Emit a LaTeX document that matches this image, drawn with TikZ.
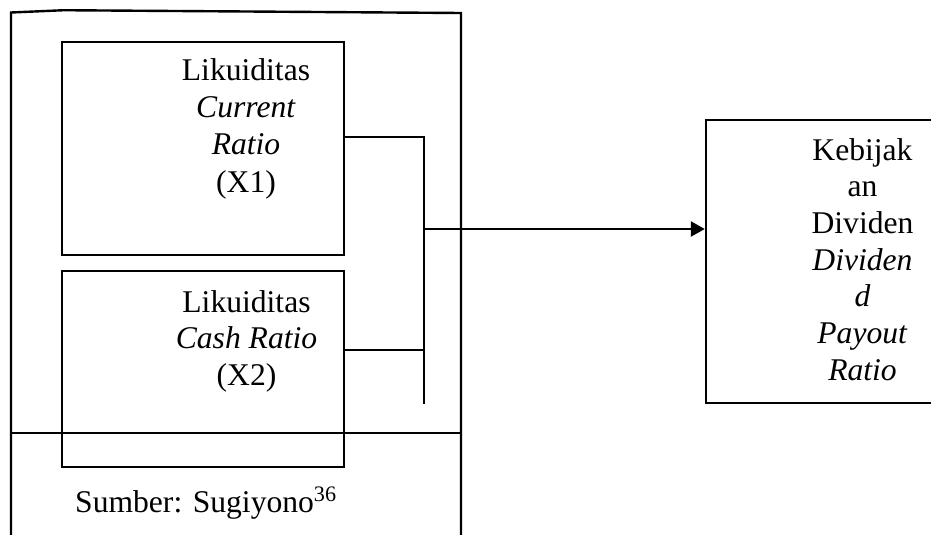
\documentclass[tikz,border=0pt]{standalone}
\usepackage{fontspec}
\setmainfont{Liberation Serif}
\usetikzlibrary{arrows.meta}
\begin{document}
\begin{tikzpicture}[x=0.5pt,y=-0.5pt,
  line width=1.2pt,
  box/.style={draw,line width=1.2pt,inner sep=0pt},
  lbl/.style={inner sep=0pt,anchor=base,font=\fontsize{15.8pt}{18.5pt}\selectfont},
  conn/.style={line width=1.2pt},
  arr/.style={line width=1.2pt,-{Triangle[length=7pt,width=7.5pt]}}]
\useasboundingbox (0,0) rectangle (931,535);
\clip (0,0) rectangle (931,535);
% outer frame
\coordinate (ftl) at (11,12.5);
\coordinate (ftr) at (461,13);
\draw[line cap=rect] (11,545) -- (ftl) -- (62,10.3) -- (75,10.3) -- (ftr) -- (461,545);
\draw (11,433) -- (461,433);
% boxes
\node[box,minimum width=141pt,minimum height=106.5pt] (x1) at (203,148.5) {};
\node[box,minimum width=141pt,minimum height=98pt] (x2) at (203,369) {};
\node[box,minimum width=150pt,minimum height=141.5pt] (y) at (856,261.5) {};
% texts box 1
\foreach \t [count=\i] in {Likuiditas,\textit{Current},\textit{Ratio},(X1)}
  \node[lbl] (a\i) at (246,{81+37*(\i-1)}) {\t};
% texts box 2
\foreach \t [count=\i] in {Likuiditas,\textit{Cash Ratio},(X2)}
  \node[lbl] (b\i) at (246.5,{312+36.5*(\i-1)}) {\t};
% texts box 3
\foreach \t [count=\i] in {Kebijak,an,Dividen,\textit{Dividen},\textit{d},\textit{Payout},\textit{Ratio}}
  \node[lbl] (c\i) at (862.5,{160+36.67*(\i-1)}) {\t};
% source
\node[lbl,anchor=base west] (src) at (74,512) {Sumber: Sugiyono\textsuperscript{36}};
% connectors
\coordinate (j1) at (424,137);
\coordinate (j2) at (424,350);
\coordinate (jm) at (424,229);
\coordinate (jb) at (424,404);
\draw[conn] (x1.east |- j1) -- (j1) -- (jb);
\draw[conn] (x2.east |- j2) -- (j2);
\draw[arr] (jm) -- (y.west |- jm);
\end{tikzpicture}
\end{document}
